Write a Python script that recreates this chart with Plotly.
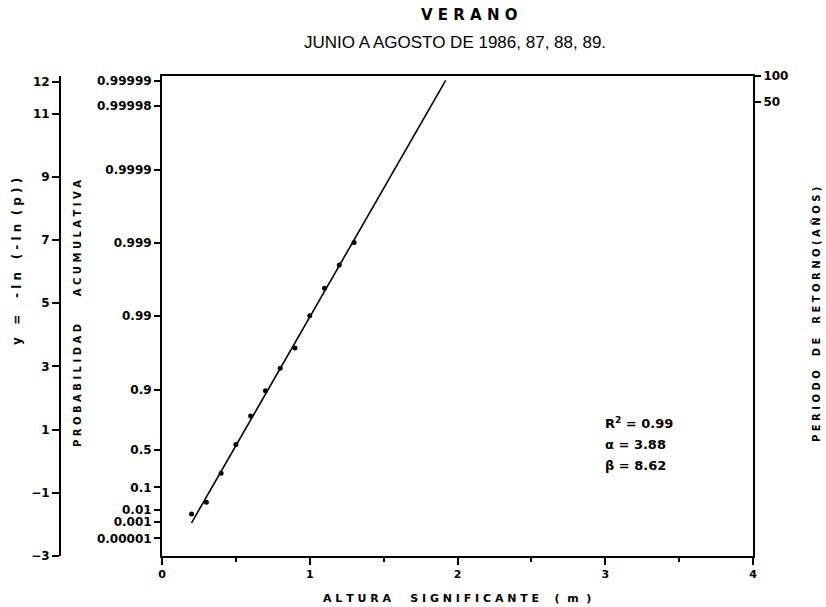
import plotly.graph_objects as go

# ---- data ----
altura = [0.2, 0.3, 0.4, 0.5, 0.6, 0.7, 0.8, 0.9, 1.0, 1.1, 1.2, 1.3]
y_red = [-1.67, -1.30, -0.38, 0.53, 1.43, 2.23, 2.94, 3.58, 4.60, 5.47, 6.21, 6.92]

fit_x = [0.20, 1.92]
fit_y = [-1.95, 12.05]

prob_labels = ["0.99999", "0.99998", "0.9999", "0.999", "0.99", "0.9", "0.5",
               "0.1", "0.01", "0.001", "0.00001"]
prob_pos = [12.03, 11.24, 9.21, 6.91, 4.60, 2.25, 0.37, -0.83, -1.53, -1.93, -2.44]

yred_ticks = [12, 11, 9, 7, 5, 3, 1, -1, -3]

ret_labels = ["100", "50"]
ret_pos = [12.19, 11.37]

x_ticks = [0, 1, 2, 3, 4]

stats = ["R<sup>2</sup> = 0.99", "\u03b1 = 3.88", "\u03b2 = 8.62"]

YR = [-3, 12.19]
FONT = "DejaVu Sans"
W, H = 826, 607
ML, MR, MT, MB = 40, 73, 76, 51
PW, PH = W - ML - MR, H - MT - MB


def px2paper(px, py):
    return (px - ML) / PW, (H - MB - py) / PH


fig = go.Figure()
fig.add_trace(go.Scatter(x=fit_x, y=fit_y, mode="lines",
                         line=dict(color="black", width=1.6),
                         showlegend=False, hoverinfo="skip"))
fig.add_trace(go.Scatter(x=altura, y=y_red, mode="markers",
                         marker=dict(color="black", size=5),
                         showlegend=False))
# invisible traces to make the extra axes render
fig.add_trace(go.Scatter(x=[0], y=[0], yaxis="y2", mode="markers",
                         marker=dict(opacity=0), showlegend=False, hoverinfo="skip"))
fig.add_trace(go.Scatter(x=[0], y=[0], yaxis="y3", mode="markers",
                         marker=dict(opacity=0), showlegend=False, hoverinfo="skip"))

tickfont = dict(family=FONT, size=12, color="black", weight="bold")
axline = dict(showline=True, linecolor="black", linewidth=2, showgrid=False,
              zeroline=False, ticks="outside", tickcolor="black", tickwidth=2)

fig.update_layout(
    width=W, height=H,
    paper_bgcolor="white", plot_bgcolor="white",
    margin=dict(l=ML, r=MR, t=MT, b=MB),
    font=dict(family=FONT, color="black"),
    xaxis=dict(domain=[(162 - ML) / PW, 1], range=[0, 4], tickvals=x_ticks,
               ticklen=7, mirror=True, tickfont=dict(tickfont, size=11),
               minor=dict(dtick=0.5, ticks="outside", ticklen=4,
                          tickcolor="black", tickwidth=1.5),
               **axline),
    yaxis=dict(range=YR, tickvals=prob_pos, ticktext=prob_labels,
               ticklen=6, tickfont=tickfont, anchor="x", **axline),
    yaxis2=dict(range=YR, overlaying="y", side="right", anchor="x",
                tickvals=ret_pos, ticktext=ret_labels, ticklen=6,
                tickfont=tickfont, **axline),
    yaxis3=dict(range=YR, overlaying="y", side="left", anchor="free",
                position=(60 - ML) / PW, tickvals=yred_ticks, ticklen=7,
                tickfont=tickfont, **axline),
)

ann = []
ann.append(dict(text="V E R A N O", x=469, y=15, font=dict(size=15, weight="bold")))
ann.append(dict(text="JUNIO A AGOSTO DE 1986, 87, 88, 89.", x=455, y=43,
                font=dict(size=17, family="Liberation Sans")))
ann.append(dict(text="A L T U R A     S I G N I F I C A N T E    (  m  )", x=457, y=598,
                font=dict(size=11, weight="bold")))
ann.append(dict(text="y   =    - l n   ( - l n  ( p ) )", x=17, y=262, textangle=-90,
                font=dict(size=12, weight="bold")))
ann.append(dict(text="P R O B A B I L I D A D        A C U M U L A T I V A", x=77, y=314,
                textangle=-90, font=dict(size=10, weight="bold")))
ann.append(dict(text="P E R I O D O    D E    R E T O R N O ( A \u00d1 O S )", x=816, y=315,
                textangle=-90, font=dict(size=10, weight="bold")))

annotations = []
for a in ann:
    f = dict(family=FONT, color="black")
    f.update(a.pop("font"))
    px_, py_ = px2paper(a.pop("x"), a.pop("y"))
    annotations.append(dict(xref="paper", yref="paper", x=px_, y=py_,
                            showarrow=False, font=f, xanchor="center",
                            yanchor="middle", **a))

for i, s in enumerate(stats):
    px_, py_ = px2paper(603, 423 + 21 * i)
    annotations.append(dict(xref="paper", yref="paper", x=px_, y=py_,
                            text=s, showarrow=False,
                            xanchor="left", yanchor="middle",
                            font=dict(family=FONT, size=13, color="black", weight="bold")))

fig.update_layout(annotations=annotations)
fig.write_html("out.html")
